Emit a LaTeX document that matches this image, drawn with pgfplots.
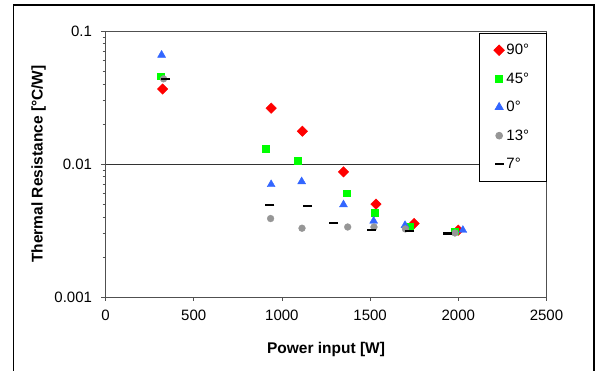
\documentclass[border=0pt]{standalone}
\usepackage{pgfplots}
\pgfplotsset{compat=1.18}
\usepackage{fontspec}
\setmainfont{Liberation Sans}
\definecolor{cred}{RGB}{255,0,0}
\definecolor{cgreen}{RGB}{0,255,0}
\definecolor{cblue}{RGB}{51,102,255}
\definecolor{cgrey}{RGB}{150,150,150}
\definecolor{axgrey}{RGB}{80,80,80}
\begin{document}
\begin{tikzpicture}
\path[use as bounding box] (0pt,0pt) rectangle (597pt,371pt);
\draw[line width=1.3pt] (13.5pt,-10pt) -- (13.5pt,366pt) -- (594pt,366pt) -- (594pt,-10pt);
\begin{axis}[
  at={(105.5pt,74pt)}, anchor=south west,
  scale only axis, width=441pt, height=266pt,
  xmin=0, xmax=2500, ymode=log, ymin=0.001, ymax=0.1,
  xtick={0,500,1000,1500,2000,2500},
  ytick={0.001,0.01,0.1}, yticklabels={0.001,0.01,0.1},
  minor ytick={}, 
  /pgf/number format/assume math mode=true,
  /pgf/number format/set thousands separator={},
  tick label style={font=\fontsize{15}{18}\selectfont},
  tick align=outside, major tick length=4pt,
  tick style={axgrey, line width=0.8pt},
  xtick pos=bottom, ytick pos=left,
  axis line style={axgrey, line width=0.9pt},
  ymajorgrids, grid style={black!80, line width=0.8pt},
  xlabel={\bfseries Power input [W]},
  ylabel={\bfseries Thermal Resistance [°C/W]},
  label style={font=\fontsize{15.5}{18}\selectfont\bfseries},
  xlabel style={at={(0.5,0)}, anchor=center, yshift=-52pt},
  ylabel style={at={(0,0.5)}, anchor=center, yshift=67pt},
  xticklabel style={yshift=-5pt},
  yticklabel style={xshift=-6pt},
  legend cell align=left,
  legend style={at={(1,0.993)}, anchor=north east, draw=black, fill=white,
    line width=0.8pt,
    font=\fontsize{15}{18}\selectfont, row sep=12.5pt,
    inner xsep=15pt, inner ysep=9pt},
  clip=false,
]
\addplot[only marks, mark=square*, mark options={rotate=45, fill=cred, draw=cred}, mark size=3.7pt] coordinates {
(324,0.0366) (939,0.0263) (1116,0.01766) (1349,0.00873) (1533,0.00499) (1750,0.00357) (2000,0.00318)};
\addlegendentry{90°}
\addplot[only marks, mark=square*, mark options={fill=cgreen, draw=cgreen}, mark size=3.4pt] coordinates {
(314,0.0458) (908,0.0131) (1088,0.01057) (1367,0.00603) (1525,0.00431) (1724,0.00336) (1981,0.00312)};
\addlegendentry{45°}
\addplot[only marks, mark=triangle*, mark options={fill=cblue, draw=cblue}, mark size=4.6pt] coordinates {
(318,0.066) (939,0.00702) (1112,0.00738) (1349,0.00495) (1520,0.00373) (1698,0.00346) (2026,0.00318)};
\addlegendentry{0°}
\addplot[only marks, mark=*, mark options={fill=cgrey, draw=cgrey}, mark size=3.4pt] coordinates {
(329,0.0437) (936,0.00389) (1114,0.00329) (1373,0.00336) (1522,0.00336) (1700,0.00325) (1981,0.00303)};
\addlegendentry{13°}
\addplot[only marks, mark=-, mark options={draw=black, line width=2.3pt}, mark size=4.5pt] coordinates {
(340,0.0437) (932,0.00493) (1146,0.00482) (1293,0.00361) (1507,0.00318) (1724,0.00312) (1938,0.0030)};
\addlegendentry{7°}
\end{axis}
\end{tikzpicture}
\end{document}
